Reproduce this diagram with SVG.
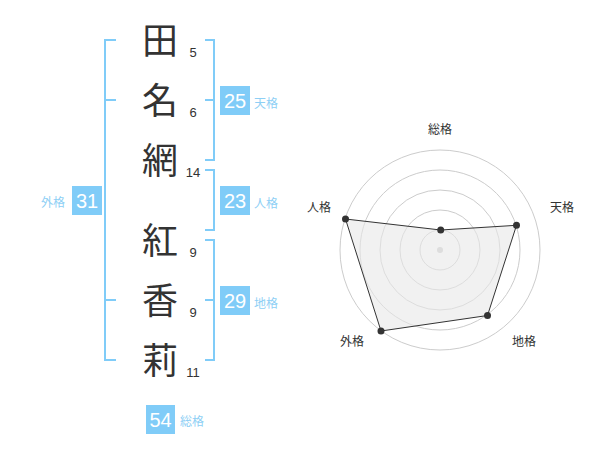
<svg xmlns="http://www.w3.org/2000/svg" width="600" height="470" viewBox="0 0 600 470">
<style>
.ch{font-family:"Noto Sans CJK JP","Noto Sans CJK SC",sans-serif;font-size:36px;fill:#333;text-anchor:middle}
.st{font-family:"Liberation Sans",Arial,sans-serif;font-size:13px;fill:#333;text-anchor:middle}
.br{fill:none;stroke:#80ccf8;stroke-width:2}
.bx{fill:#80ccf8}
.bn{font-family:"Liberation Sans",Arial,sans-serif;font-size:20px;fill:#fff;text-anchor:middle}
.lb{font-family:"Noto Sans CJK JP","Noto Sans CJK SC",sans-serif;font-size:12px;fill:#8ecff5}
.rl{font-family:"Noto Sans CJK JP","Noto Sans CJK SC",sans-serif;font-size:12px;fill:#333;text-anchor:middle}
.ring{fill:none;stroke:#ccc;stroke-width:1}
.dot{fill:#333}
</style>
<rect width="600" height="470" fill="#fff"/>
<g id="connectors">
<path class="br" d="M116,40 H105 V360 H116 M105,100 H116 M105,300 H116"/>
<path class="br" d="M205,40 H214 V160 H205 M205,100 H214"/>
<path class="br" d="M205,170 H214 V230 H205"/>
<path class="br" d="M205,240 H214 V360 H205 M205,300 H214"/>
</g>
<g id="char1"><text class="ch" x="160" y="54">田</text><text class="st" x="193" y="57">5</text></g>
<g id="char2"><text class="ch" x="160" y="114">名</text><text class="st" x="193" y="117">6</text></g>
<g id="char3"><text class="ch" x="160" y="174">網</text><text class="st" x="193" y="177">14</text></g>
<g id="char4"><text class="ch" x="160" y="254">紅</text><text class="st" x="193" y="257">9</text></g>
<g id="char5"><text class="ch" x="160" y="314">香</text><text class="st" x="193" y="317">9</text></g>
<g id="char6"><text class="ch" x="160" y="374">莉</text><text class="st" x="193" y="377">11</text></g>
<g id="tenkaku"><rect class="bx" x="220" y="86" width="30" height="29"/><text class="bn" x="235" y="108">25</text><text class="lb" x="254" y="108">天格</text></g>
<g id="jinkaku"><rect class="bx" x="220" y="186" width="30" height="29"/><text class="bn" x="235" y="208">23</text><text class="lb" x="254" y="208">人格</text></g>
<g id="chikaku"><rect class="bx" x="220" y="286" width="30" height="29"/><text class="bn" x="235" y="308">29</text><text class="lb" x="254" y="308">地格</text></g>
<g id="gaikaku"><rect class="bx" x="72" y="186" width="30" height="29"/><text class="bn" x="87" y="208">31</text><text class="lb" x="65" y="207" text-anchor="end">外格</text></g>
<g id="soukaku"><rect class="bx" x="146" y="405" width="29" height="29"/><text class="bn" x="160.5" y="427">54</text><text class="lb" x="180" y="426">総格</text></g>
<g id="radar">
<circle class="ring" cx="440" cy="250" r="20"/>
<circle class="ring" cx="440" cy="250" r="40"/>
<circle class="ring" cx="440" cy="250" r="60"/>
<circle class="ring" cx="440" cy="250" r="80"/>
<circle class="ring" cx="440" cy="250" r="100"/>
<circle cx="440" cy="250" r="3" fill="#ccc"/>
<polygon points="440.7,230 516.5,225.3 487.5,315.5 381,331 345.5,219" fill="#e8e8e8" fill-opacity="0.6" stroke="#333" stroke-width="1"/>
<circle class="dot" cx="440.7" cy="230" r="3.5"/>
<circle class="dot" cx="516.5" cy="225.3" r="3.5"/>
<circle class="dot" cx="487.5" cy="315.5" r="3.5"/>
<circle class="dot" cx="381" cy="331" r="3.5"/>
<circle class="dot" cx="345.5" cy="219" r="3.5"/>
<text class="rl" x="440" y="134">総格</text>
<text class="rl" x="562" y="212">天格</text>
<text class="rl" x="524" y="346">地格</text>
<text class="rl" x="352" y="346">外格</text>
<text class="rl" x="319" y="212">人格</text>
</g>
</svg>
